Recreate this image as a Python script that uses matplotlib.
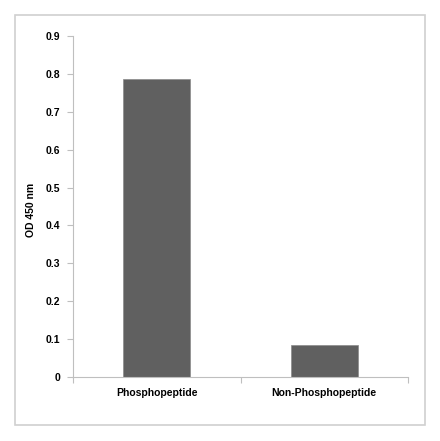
import matplotlib.pyplot as plt
from matplotlib.patches import Rectangle

categories = ['Phosphopeptide', 'Non-Phosphopeptide']
values = [0.786, 0.084]
yticks = [0, 0.1, 0.2, 0.3, 0.4, 0.5, 0.6, 0.7, 0.8, 0.9]
ytick_labels = ['0', '0.1', '0.2', '0.3', '0.4', '0.5', '0.6', '0.7', '0.8', '0.9']

plt.rcParams['font.family'] = ['Liberation Sans', 'DejaVu Sans']

fig = plt.figure(figsize=(4.4, 4.41), dpi=100)
fig.patches.append(Rectangle((15 / 440, 16 / 441), 410 / 440, 410 / 441,
                             transform=fig.transFigure, fill=False,
                             edgecolor='#d0d0d0', lw=1.2))

ax = fig.add_axes([73 / 440, 1 - 377 / 441, 335 / 440, 341 / 441])
x = [0.5, 1.5]
ax.bar(x, values, width=0.4, color='#606060', edgecolor='#8a8a8a', lw=0.5)
ax.set_xlim(0, 2)
ax.set_ylim(0, 0.9)

ax.set_yticks(yticks)
ax.set_yticklabels(ytick_labels, fontsize=7.5, fontweight='bold')
ax.set_xticks([0, 1, 2])
ax.set_xticklabels([])
ax.set_xticks(x, minor=True)
ax.set_xticklabels(categories, minor=True, fontsize=7.5, fontweight='bold')
ax.tick_params(axis='x', which='minor', length=0, pad=8)
ax.tick_params(axis='x', which='major', length=4, color='#bfbfbf', direction='out')
ax.tick_params(axis='y', length=4, color='#bfbfbf', direction='out', pad=5)

for s in ['top', 'right']:
    ax.spines[s].set_visible(False)
for s in ['left', 'bottom']:
    ax.spines[s].set_color('#bfbfbf')

ax.set_ylabel('OD 450 nm', fontsize=7.5, fontweight='bold')
ax.yaxis.set_label_coords(-37 / 335, 0.49)

fig.savefig('out.png', dpi=100)
